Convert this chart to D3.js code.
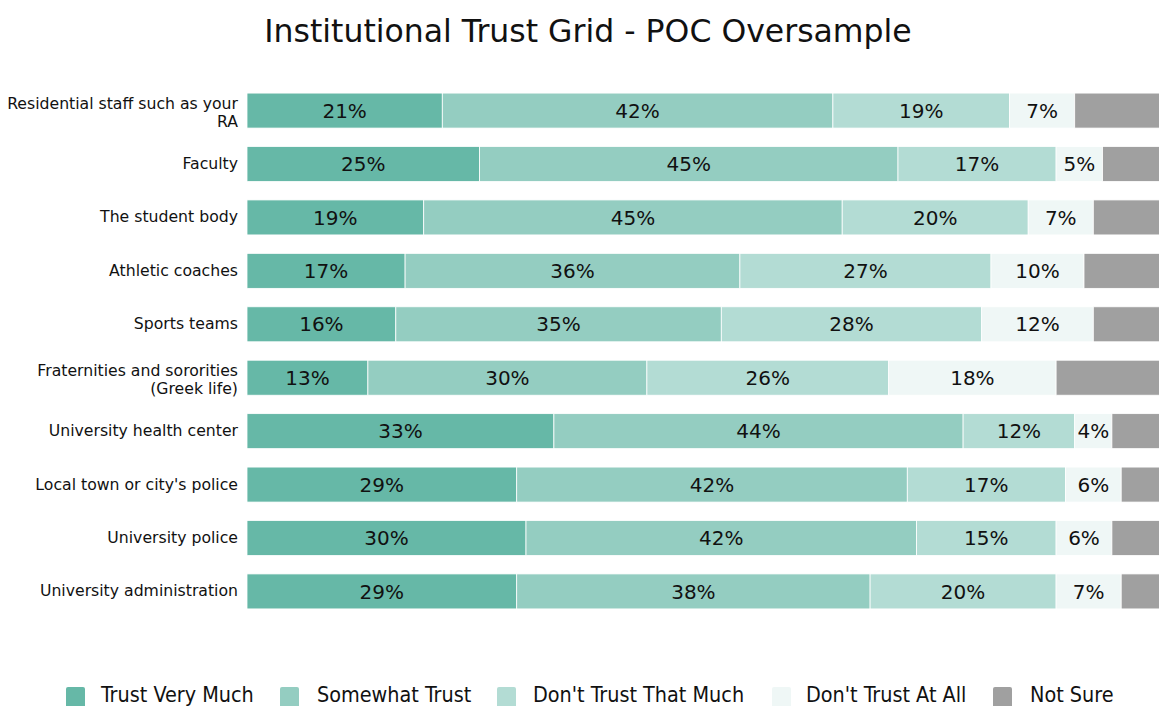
<!DOCTYPE html>
<html>
<head>
<meta charset="utf-8">
<script src="https://cdn.jsdelivr.net/npm/d3@7"></script>
<style>
  html, body { margin: 0; padding: 0; background: #fff; overflow: hidden; }
  svg { display: block; font-family: "DejaVu Sans", sans-serif; }
</style>
</head>
<body>
<svg id="chart" width="1159" height="706"></svg>
<script>
// Institutions asked about (top to bottom)
const categories = [
  "Residential staff such as your RA",
  "Faculty",
  "The student body",
  "Athletic coaches",
  "Sports teams",
  "Fraternities and sororities (Greek life)",
  "University health center",
  "Local town or city's police",
  "University police",
  "University administration"
];

// Answer options, in stacking order
const seriesNames = ["Trust Very Much", "Somewhat Trust", "Don't Trust That Much", "Don't Trust At All", "Not Sure"];
const seriesColors = ["#66b8a7", "#94cdc1", "#b3dcd4", "#eff7f6", "#a0a0a0"];

// Percent of respondents per answer
const trustVeryMuch      = [21, 25, 19, 17, 16, 13, 33, 29, 30, 29];
const somewhatTrust      = [42, 45, 45, 36, 35, 30, 44, 42, 42, 38];
const dontTrustThatMuch  = [19, 17, 20, 27, 28, 26, 12, 17, 15, 20];
const dontTrustAtAll     = [ 7,  5,  7, 10, 12, 18,  4,  6,  6,  7];
const notSure            = [11,  8,  9, 10,  9, 13,  7,  6,  7,  6];

// Two-line wrapping for long category names
const labelLines = {
  "Residential staff such as your RA": ["Residential staff such as your", "RA"],
  "Fraternities and sororities (Greek life)": ["Fraternities and sororities", "(Greek life)"]
};

const seriesValues = [trustVeryMuch, somewhatTrust, dontTrustThatMuch, dontTrustAtAll, notSure];
const rows = categories.map((c, i) => {
  const r = { category: c };
  seriesNames.forEach((s, k) => r[s] = seriesValues[k][i]);
  return r;
});

const svg = d3.select("#chart");
const margin = { left: 247, top: 84, bottom: 618 };

const x = d3.scaleLinear().domain([0, 100]).range([margin.left, 1177]);
const y = d3.scaleBand().domain(categories).range([margin.top, margin.bottom]).paddingInner(0.345).paddingOuter(0.17);
const color = d3.scaleOrdinal().domain(seriesNames).range(seriesColors);

const stacked = d3.stack().keys(seriesNames)(rows);

// Title
svg.append("text")
  .attr("x", 588).attr("y", 42)
  .attr("text-anchor", "middle")
  .attr("font-size", 31.5)
  .attr("fill", "#111")
  .text("Institutional Trust Grid - POC Oversample");

// Bars
const layers = svg.append("g").selectAll("g")
  .data(stacked)
  .join("g")
  .attr("fill", d => color(d.key));

layers.selectAll("rect")
  .data(d => d.map(v => ({ key: d.key, v })))
  .join("rect")
  .attr("x", d => x(d.v[0]))
  .attr("y", d => y(d.v.data.category))
  .attr("width", d => x(d.v[1]) - x(d.v[0]))
  .attr("height", y.bandwidth())
  .attr("stroke", "#ffffff")
  .attr("stroke-width", 0.8);

// Value labels (Not Sure left unlabeled)
layers.filter(d => d.key !== "Not Sure")
  .selectAll("text")
  .data(d => d.map(v => ({ key: d.key, v })))
  .join("text")
  .attr("x", d => (x(d.v[0]) + x(d.v[1])) / 2)
  .attr("y", d => y(d.v.data.category) + y.bandwidth() / 2)
  .attr("dy", "0.36em")
  .attr("text-anchor", "middle")
  .attr("font-size", 20)
  .attr("fill", "#111")
  .text(d => (d.v[1] - d.v[0]) + "%");

// Category axis
const yAxis = svg.append("g")
  .attr("transform", `translate(${margin.left},0)`)
  .call(d3.axisLeft(y).tickSize(0).tickPadding(9));
yAxis.select(".domain").remove();
yAxis.selectAll(".tick text")
  .attr("font-size", 15.7)
  .attr("fill", "#111")
  .attr("font-family", "DejaVu Sans, sans-serif")
  .each(function(d) {
    const lines = labelLines[d];
    if (!lines) return;
    const t = d3.select(this).text(null);
    lines.forEach((ln, i) => {
      t.append("tspan")
        .attr("x", -9)
        .attr("dy", i === 0 ? "-0.1em" : "1.13em")
        .text(ln);
    });
  });

// Legend
const legendItems = [
  { name: seriesNames[0], sx: 66,  tx: 101 },
  { name: seriesNames[1], sx: 280, tx: 317 },
  { name: seriesNames[2], sx: 497, tx: 533 },
  { name: seriesNames[3], sx: 772, tx: 806 },
  { name: seriesNames[4], sx: 993, tx: 1030 }
];
const legend = svg.append("g")
  .attr("font-family", "DejaVu Sans Condensed, DejaVu Sans, sans-serif");
legend.selectAll("rect")
  .data(legendItems)
  .join("rect")
  .attr("x", d => d.sx).attr("y", 687)
  .attr("width", 19).attr("height", 22)
  .attr("rx", 2)
  .attr("fill", d => color(d.name));
legend.selectAll("text")
  .data(legendItems)
  .join("text")
  .attr("x", d => d.tx).attr("y", 702)
  .attr("font-size", 21.4)
  .attr("fill", "#111")
  .text(d => d.name);
</script>
</body>
</html>
